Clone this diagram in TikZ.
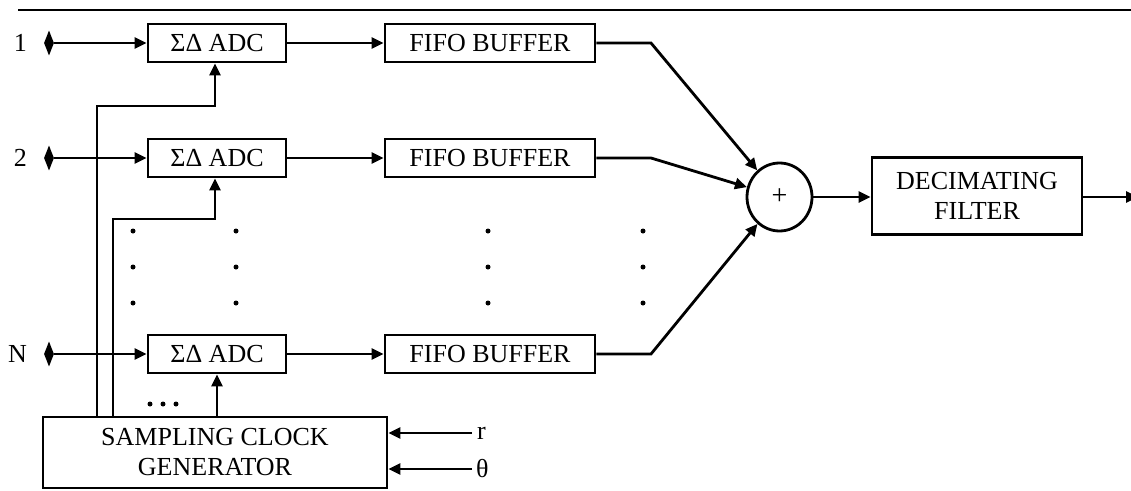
\documentclass[tikz,border=0pt]{standalone}
\usepackage{fontspec}
\setmainfont{Liberation Serif}
\usetikzlibrary{arrows.meta,shapes.geometric}
\tikzset{
  blk/.style={draw, line width=2.8pt, minimum height=38pt, inner sep=0pt},
  wire/.style={line width=2.8pt},
  sig/.style={wire, -{Triangle[length=12pt,width=11pt]}},
  port/.style={diamond, fill=black, draw=none, minimum width=10pt, minimum height=25pt, inner sep=0pt},
  lbl/.style={inner sep=0pt, font=\fontsize{26}{30}\selectfont},
  vdot/.style={circle, fill=black, inner sep=0pt, minimum size=5pt}
}
\begin{document}
\begin{tikzpicture}[x=1pt,y=-1pt]
\clip (0,0) rectangle (1131,490);
\fill[white] (0,0) rectangle (1131,490);
\draw[line width=2.4pt] (18,10) -- (1131,10);

% input channels
\foreach \k/\y/\t in {1/43/1, 2/158/2, 3/354/N} {
  \node[lbl, anchor=east] (lab\k) at (27,\y) {\t};
  \node[port] (in\k) at (49,\y) {};
  \node[blk, minimum width=138pt, lbl, minimum height=38pt] (adc\k) at (217,\y) {ΣΔ ADC};
  \node[blk, minimum width=210pt, lbl, minimum height=38pt] (fifo\k) at (490,\y) {FIFO BUFFER};
  \coordinate (bend\k) at (651,\y);
  \draw[sig] (in\k.east) -- (adc\k.west);
  \draw[sig] (adc\k.east) -- (fifo\k.west);
}

% summing junction and filter
\node[ellipse, draw, line width=2.8pt, minimum width=65pt, minimum height=68pt, inner sep=0pt,
      font=\fontsize{28}{30}\selectfont] (sum) at (779.5,197) {+};
\node[blk, lbl, minimum width=210pt, minimum height=77pt, align=center] (filt) at (977,196) {DECIMATING\\FILTER};
\coordinate (outend) at (1138,197);

\draw[sig] (fifo1.east) -- (bend1) -- (sum);
\draw[sig] (fifo2.east) -- (bend2) -- (sum);
\draw[sig] (fifo3.east) -- (bend3) -- (sum);
\draw[sig] (sum.east) -- (filt.west |- sum.east);
\draw[sig] (filt.east |- sum.east) -- (outend);

% clock generator
\node[blk, lbl, minimum width=344pt, minimum height=71pt, align=center] (clk) at (215,452.5) {SAMPLING CLOCK\\GENERATOR};
\coordinate (c1a) at (97,106);
\coordinate (c1b) at (215,106);
\coordinate (c2a) at (113,219);
\coordinate (c2b) at (215,219);
\draw[sig] (clk.north -| c1a) -- (c1a) -- (c1b) -- (adc1.south -| c1b);
\draw[sig] (clk.north -| c2a) -- (c2a) -- (c2b) -- (adc2.south -| c2b);
\draw[sig] (clk.north -| adc3.south) -- (adc3.south);
\foreach \x in {150,163,176}
  \node[vdot] at (\x,404) {};

% control inputs
\node[lbl, anchor=west] (rin) at (477,433) {r};
\node[lbl, anchor=west] (thin) at (476,469) {θ};
\draw[sig] (rin.west) ++(-5,0) coordinate (ra) -- (clk.east |- ra);
\draw[sig] (thin.west) ++(-4,0) coordinate (ta) -- (clk.east |- ta);

% omitted channels
\foreach \x in {133,236,488,643}
  \foreach \y in {231,267,303}
    \node[vdot] at (\x,\y) {};
\end{tikzpicture}
\end{document}
